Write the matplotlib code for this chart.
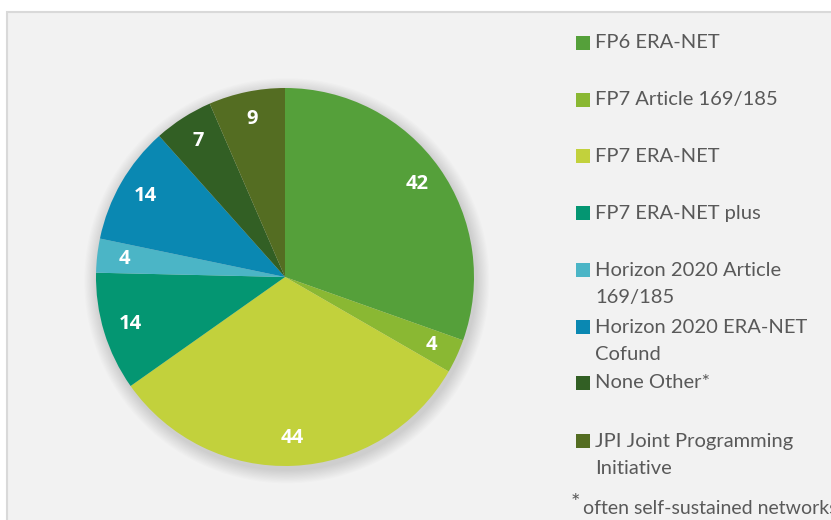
import matplotlib.pyplot as plt
from matplotlib.patches import Rectangle, Circle

# ------------------------------------------------------------------
# Data
# ------------------------------------------------------------------
labels = ["FP6 ERA-NET", "FP7 Article 169/185", "FP7 ERA-NET", "FP7 ERA-NET plus",
          "Horizon 2020 Article\n169/185", "Horizon 2020 ERA-NET\nCofund", "None Other*",
          "JPI Joint Programming\nInitiative"]
values = [42, 4, 44, 14, 4, 14, 7, 9]
colors = ["#55A03A", "#8AB833", "#C2D13C", "#049672", "#4BB5C6", "#0A88B2", "#325F24", "#546D22"]
footnote = "often self-sustained networks"

plt.rcParams['font.family'] = ['Lato', 'DejaVu Sans']
W, H = 831, 520
fig = plt.figure(figsize=(W / 100, H / 100), dpi=100, facecolor="white")

# chart area box (behind everything)
fig.patches.append(Rectangle((6.5 / W, -0.05), 1.0, (H - 11.5) / H + 0.05, transform=fig.transFigure,
                             facecolor="#F2F2F2", edgecolor="#D9D9D9", linewidth=1.5, zorder=-10))

# pie axes: center (285, 277) px, radius 189 px
cx, cy, r = 285, 277, 189
half = r * 1.15
ax = fig.add_axes([(cx - half) / W, (H - cy - half) / H, 2 * half / W, 2 * half / H])
ax.patch.set_visible(False)

# soft shadow
for i in range(12):
    ax.add_patch(Circle((0.01, -0.02), 1.0 + 0.006 * (12 - i), facecolor="black",
                        alpha=0.012, edgecolor="none", zorder=0))

wedges, texts, autotexts = ax.pie(values, colors=colors, startangle=90, counterclock=False,
                                  radius=1.0, autopct=lambda p: f"{p * sum(values) / 100:.0f}",
                                  pctdistance=0.855, wedgeprops=dict(linewidth=0),
                                  textprops=dict(color="white", fontsize=14.5, fontweight="bold",
                                                 family=["Open Sans", "DejaVu Sans"]))
for w in wedges:
    w.set_zorder(2)
for t in autotexts:
    t.set_zorder(3)
ax.set_xlim(-1.15, 1.15)
ax.set_ylim(-1.15, 1.15)
ax.set_aspect("equal")
ax.axis("off")

# legend (manual, to match line spacing)
ys = [43, 100, 156, 213, 284, 341, 383, 455]
for lab, col, y in zip(labels, colors, ys):
    nlines = lab.count("\n") + 1
    ytop = y - (nlines - 1) * 14
    fig.add_artist(Rectangle((576 / W, (H - ytop - 7) / H), 14 / W, 14 / H,
                             transform=fig.transFigure, facecolor=col, edgecolor="none"))
    fig.text(595 / W, (H - y) / H, lab, fontsize=14.5, color="#595959", ha="left", va="center",
             linespacing=1.7)

fig.text(571 / W, (H - 503) / H, "*", fontsize=16, color="#595959", ha="left", va="center")
fig.text(583 / W, (H - 508) / H, footnote, fontsize=14, color="#595959", ha="left", va="center")

fig.savefig("out.png", dpi=100, facecolor="white")
